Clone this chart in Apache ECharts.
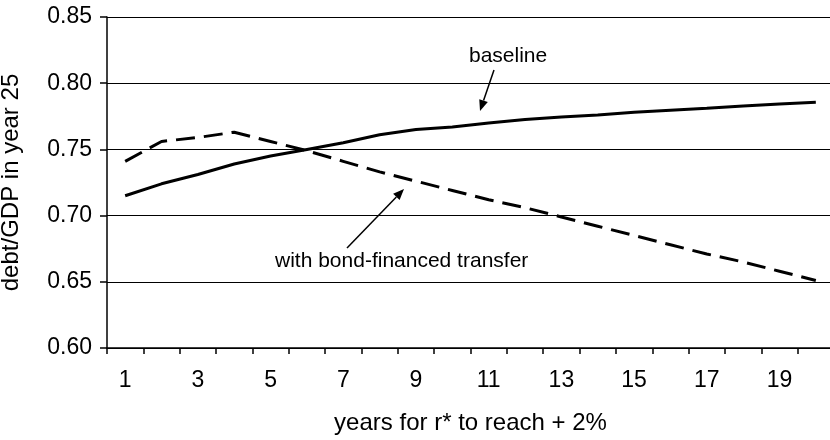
<!DOCTYPE html>
<html>
<head>
<meta charset="utf-8">
<script src="https://cdn.jsdelivr.net/npm/echarts@6/dist/echarts.min.js"></script>
<style>
html,body{margin:0;padding:0;background:#fff;}
#chart{width:830px;height:440px;}
</style>
</head>
<body>
<div id="chart"></div>
<script>
// ---- data ----
var years = ['1','2','3','4','5','6','7','8','9','10','11','12','13','14','15','16','17','18','19','20'];
var baseline = [0.715,0.724,0.731,0.739,0.745,0.750,0.755,0.761,0.765,0.767,0.770,0.7725,0.7745,0.776,0.778,0.7795,0.781,0.7828,0.7843,0.7856];
var bondFinanced = [0.741,0.756,0.759,0.763,0.756,0.749,0.741,0.733,0.726,0.719,0.712,0.706,0.699,0.692,0.685,0.678,0.671,0.665,0.658,0.651];
var yTicks = [0.60,0.65,0.70,0.75,0.80,0.85];

var FONT = '"Liberation Sans", Arial, sans-serif';
var chart = echarts.init(document.getElementById('chart'), null, {renderer:'canvas'});

function arrow(x1,y1,x2,y2){
  var dx=x2-x1, dy=y2-y1, L=Math.sqrt(dx*dx+dy*dy), ux=dx/L, uy=dy/L;
  var hl=11, hw=4.5;
  var bx=x2-ux*hl, by=y2-uy*hl;
  return [
    {type:'line', shape:{x1:x1,y1:y1,x2:bx,y2:by}, style:{stroke:'#000',lineWidth:1.5}},
    {type:'polygon', shape:{points:[[x2,y2],[bx-uy*hw,by+ux*hw],[bx+uy*hw,by-ux*hw]]}, style:{fill:'#000'}}
  ];
}

var graphics = [
  {type:'text', left:469, top:46, style:{text:'baseline', font:'21px '+FONT, fill:'#000'}},
  {type:'text', left:275, top:251, style:{text:'with bond-financed transfer', font:'21px '+FONT, fill:'#000'}}
].concat(arrow(494,70,480,111)).concat(arrow(347,248,404,189));

chart.setOption({
  animation:false,
  backgroundColor:'#fff',
  grid:{left:107, top:17, width:727, height:331, containLabel:false, outerBoundsMode:'none'},
  xAxis:{
    type:'category', data:years, boundaryGap:true,
    name:'years for r* to reach + 2%', nameLocation:'middle', nameGap:63,
    nameTextStyle:{fontFamily:FONT, fontSize:24, color:'#000'},
    axisLine:{lineStyle:{color:'#000', width:1.5}},
    axisTick:{show:true, interval:0, length:6, lineStyle:{color:'#000', width:1.5}},
    axisLabel:{interval:1, fontFamily:FONT, fontSize:23, color:'#000', margin:21},
    splitLine:{show:false}
  },
  yAxis:{
    type:'value', min:0.60, max:0.85, interval:0.05,
    name:'debt/GDP in year 25', nameLocation:'middle', nameGap:84,
    nameTextStyle:{fontFamily:FONT, fontSize:24, color:'#000'},
    axisLine:{show:true, lineStyle:{color:'#000', width:1.5}},
    axisTick:{show:true, length:7, lineStyle:{color:'#000', width:1.5}},
    axisLabel:{fontFamily:FONT, fontSize:23, color:'#000', margin:15,
      formatter:function(v){ return v.toFixed(2); }},
    splitLine:{show:true, lineStyle:{color:'#000', width:1.2}}
  },
  series:[
    {name:'baseline', type:'line', data:baseline, symbol:'none', smooth:false,
     lineStyle:{color:'#000', width:3}},
    {name:'with bond-financed transfer', type:'line', data:bondFinanced, symbol:'none',
     lineStyle:{color:'#000', width:3, type:[19,9]}}
  ],
  graphic: graphics
});
</script>
</body>
</html>
